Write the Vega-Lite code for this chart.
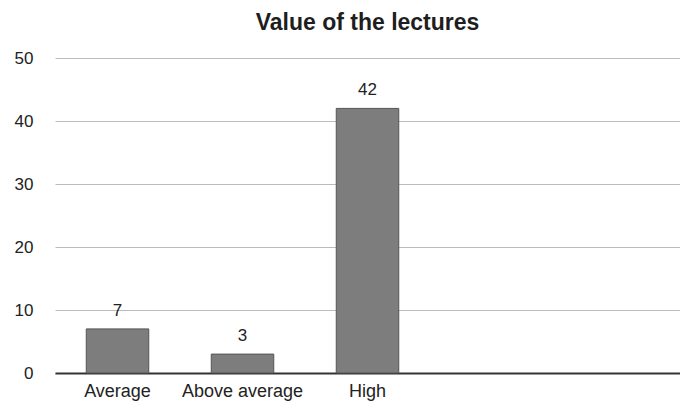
{
  "$schema": "https://vega.github.io/schema/vega-lite/v6.json",
  "width": 625,
  "height": 315,
  "autosize": "none",
  "padding": {"left": 55, "top": 58, "right": 0, "bottom": 36},
  "background": "white",
  "title": {
    "text": "Value of the lectures",
    "font": "Liberation Sans",
    "fontSize": 23,
    "fontWeight": "bold",
    "color": "#1e1e1e",
    "anchor": "middle",
    "offset": 14
  },
  "data": {
    "values": [
      {"category": "Average", "count": 7},
      {"category": "Above average", "count": 3},
      {"category": "High", "count": 42}
    ]
  },
  "config": {
    "view": {"stroke": null},
    "font": "Liberation Sans"
  },
  "encoding": {
    "x": {
      "field": "category",
      "type": "nominal",
      "sort": null,
      "scale": {"domain": ["Average", "Above average", "High", " ", "  "], "paddingInner": 0.5, "paddingOuter": 0.25},
      "axis": {
        "title": null,
        "labelAngle": 0,
        "labelFontSize": 18,
        "labelColor": "#222",
        "labelPadding": 9,
        "ticks": false,
        "domainColor": "#333",
        "domainWidth": 2
      }
    },
    "y": {
      "field": "count",
      "type": "quantitative",
      "scale": {"domain": [0, 50]},
      "axis": {
        "title": null,
        "values": [0, 10, 20, 30, 40, 50],
        "labelFontSize": 17,
        "labelColor": "#222",
        "labelPadding": 22,
        "ticks": false,
        "domain": false,
        "gridColor": "#bbb",
        "gridWidth": 1
      }
    }
  },
  "layer": [
    {
      "mark": {"type": "bar", "color": "#7d7d7d", "stroke": "#555", "strokeWidth": 1}
    },
    {
      "mark": {"type": "text", "baseline": "bottom", "dy": -9, "fontSize": 17, "color": "#222"},
      "encoding": {"text": {"field": "count", "type": "quantitative"}}
    }
  ]
}
